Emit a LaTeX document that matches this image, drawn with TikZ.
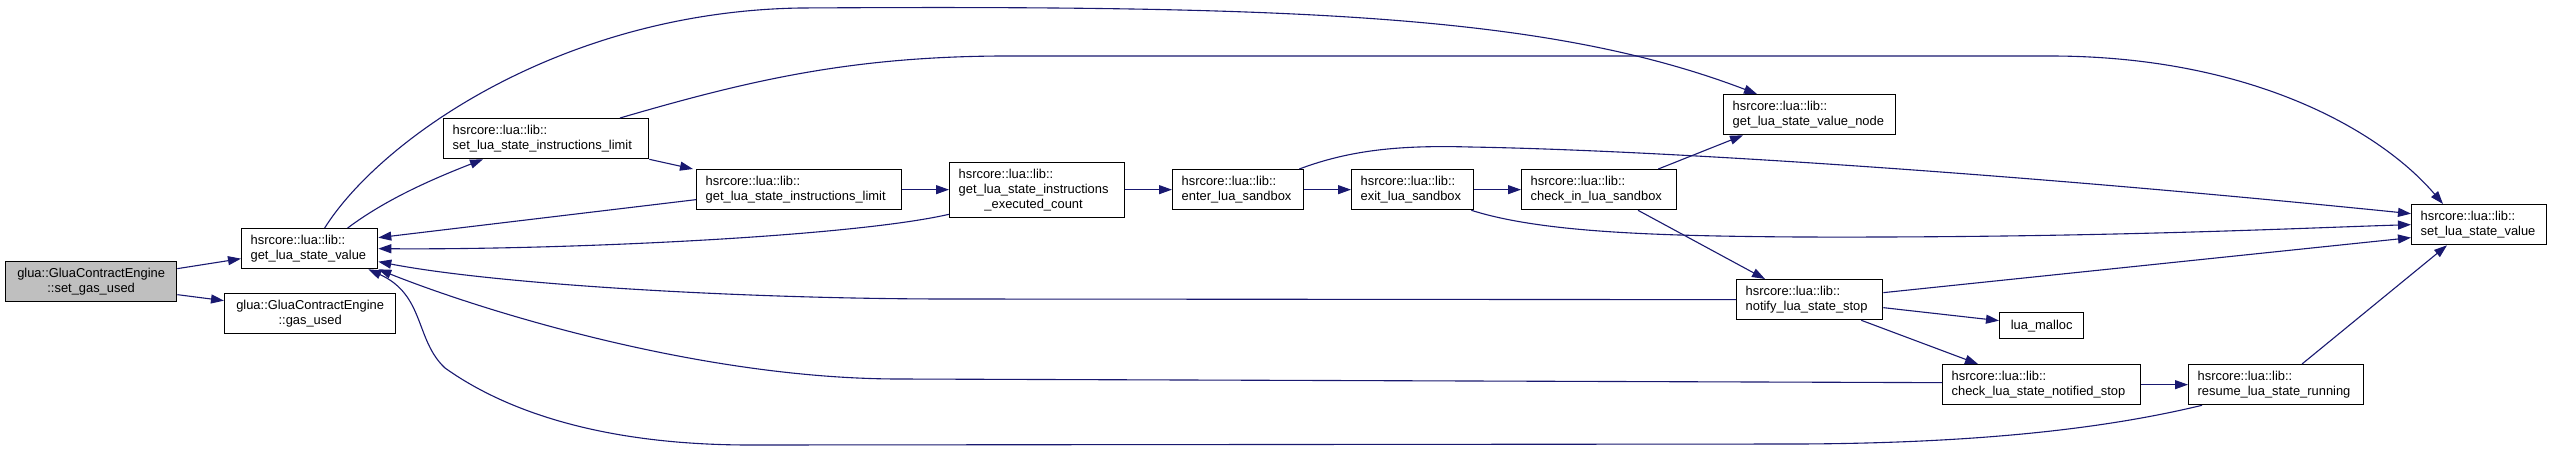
\documentclass[tikz,border=0pt]{standalone}
\usepackage{fontspec}
\setmainfont{Liberation Sans}
\usetikzlibrary{arrows.meta}
\definecolor{edgec}{HTML}{191970}
\definecolor{hl}{HTML}{BFBFBF}
\begin{document}
\begin{tikzpicture}[x=1pt,y=-1pt,
  box/.style={draw=black, line width=1.3pt, fill=white, inner xsep=9pt, inner ysep=0pt,
    anchor=north west, align=left, minimum height=40pt,
    font=\fontsize{12.9}{15}\selectfont},
  edge/.style={draw=edgec, line width=1.1pt, -{Triangle[length=13pt,width=9pt]}}]
\fill[white] (0,0) rectangle (2552,450);
\useasboundingbox (0,0) rectangle (2552,450);

\node[box, fill=hl, align=center, minimum width=171pt, text width=153pt] (sgu) at (5,261) {glua::GluaContractEngine\\::set\_gas\_used};
\node[box, minimum width=136pt, text width=118pt] (gslv) at (241,228) {hsrcore::lua::lib::\\get\_lua\_state\_value};
\node[box, align=center, minimum width=171pt, text width=153pt] (gu) at (224,293) {glua::GluaContractEngine\\::gas\_used};
\node[box, minimum width=205pt, text width=187pt] (silim) at (443,118) {hsrcore::lua::lib::\\set\_lua\_state\_instructions\_limit};
\node[box, minimum width=205pt, text width=187pt] (gilim) at (696,169) {hsrcore::lua::lib::\\get\_lua\_state\_instructions\_limit};
\node[box, minimum width=175pt, minimum height=55pt, text width=157pt] (exc) at (949,162) {\begin{tabular}{@{}l@{}}hsrcore::lua::lib::\\get\_lua\_state\_instructions\\\multicolumn{1}{@{}c@{}}{\_executed\_count}\end{tabular}};
\node[box, minimum width=131pt, text width=113pt] (enter) at (1172,169) {hsrcore::lua::lib::\\enter\_lua\_sandbox};
\node[box, minimum width=122pt, text width=104pt] (exit) at (1351,169) {hsrcore::lua::lib::\\exit\_lua\_sandbox};
\node[box, minimum width=155pt, text width=137pt] (chkin) at (1521,169) {hsrcore::lua::lib::\\check\_in\_lua\_sandbox};
\node[box, minimum width=172pt, text width=154pt] (vnode) at (1723,94) {hsrcore::lua::lib::\\get\_lua\_state\_value\_node};
\node[box, minimum width=146pt, text width=128pt] (notify) at (1736,279) {hsrcore::lua::lib::\\notify\_lua\_state\_stop};
\node[box, align=center, minimum width=84pt, minimum height=26pt, text width=66pt] (malloc) at (1999,312) {lua\_malloc};
\node[box, minimum width=198pt, text width=180pt] (chkns) at (1942,364) {hsrcore::lua::lib::\\check\_lua\_state\_notified\_stop};
\node[box, minimum width=175pt, text width=157pt] (resume) at (2188,364) {hsrcore::lua::lib::\\resume\_lua\_state\_running};
\node[box, minimum width=135pt, text width=117pt] (slsv) at (2411,204) {hsrcore::lua::lib::\\set\_lua\_state\_value};

% edges
\draw[edge] ([yshift=13pt]sgu.east) -- ([yshift=-10pt]gslv.west);
\draw[edge] ([yshift=-13pt]sgu.east) -- ([yshift=13pt]gu.west);
\draw[edge] ([xshift=38pt]gslv.north) .. controls (385,200) and (430,180) .. ([xshift=40pt]silim.south west);
\draw[edge] ([xshift=15pt]gslv.north) .. controls (380,140) and (560,12) .. (800,8) .. controls (1300,5) and (1550,15) .. ([xshift=34pt]vnode.north west);
\draw[edge] ([xshift=177pt]silim.north west) .. controls (750,80) and (850,57) .. (1000,56) -- (2050,56) .. controls (2250,56) and (2380,130) .. ([xshift=32pt]slsv.north west);
\draw[edge] (silim.south east) -- ([xshift=-3pt]gilim.north west);
\draw[edge] ([yshift=-10pt]gilim.west) -- ([yshift=11pt]gslv.east);
\draw[edge] (gilim.east) -- (gilim.east -| exc.west);
\draw[edge] ([yshift=4pt]exc.south west) .. controls (850,237) and (560,250) .. (gslv.east);
\draw[edge] (exc.east |- enter.west) -- (enter.west);
\draw[edge] (enter.east) -- (exit.west);
\draw[edge] (exit.east) -- (chkin.west);
\draw[edge] ([xshift=-5pt]enter.north east) .. controls (1350,150) and (1400,145) .. (1470,147) .. controls (1650,150) and (2000,172) .. ([yshift=11pt]slsv.west);
\draw[edge] ([xshift=-3pt]exit.south east) .. controls (1540,232) and (1650,236) .. (1800,237) .. controls (2100,238) and (2300,228) .. (slsv.west);
\draw[edge] ([xshift=-19pt]chkin.north east) -- ([xshift=20pt]vnode.south west);
\draw[edge] ([xshift=117pt]chkin.south west) -- ([xshift=29pt]notify.north west);
\draw[edge] (notify.west) -- (950,299) .. controls (750,299) and (500,285) .. ([yshift=-13pt]gslv.east);
\draw[edge] ([yshift=2pt]chkns.west) -- (900,379) .. controls (700,379) and (480,310) .. (gslv.south east);
\draw[edge] ([xshift=14pt]resume.south west) .. controls (2120,425) and (2000,443) .. (1800,444) -- (750,445) .. controls (580,445) and (490,400) .. (445,368) .. controls (415,340) and (425,295) .. ([xshift=-10pt]gslv.south east);
\draw[edge] ([yshift=7pt]notify.east) -- ([yshift=-13pt]slsv.west);
\draw[edge] ([yshift=-8pt]notify.east) -- ([yshift=5pt]malloc.west);
\draw[edge] ([xshift=-22pt]notify.south east) -- ([xshift=36pt]chkns.north west);
\draw[edge] (chkns.east) -- (resume.west);
\draw[edge] ([xshift=114pt]resume.north west) -- ([xshift=36pt]slsv.south west);
\end{tikzpicture}
\end{document}
